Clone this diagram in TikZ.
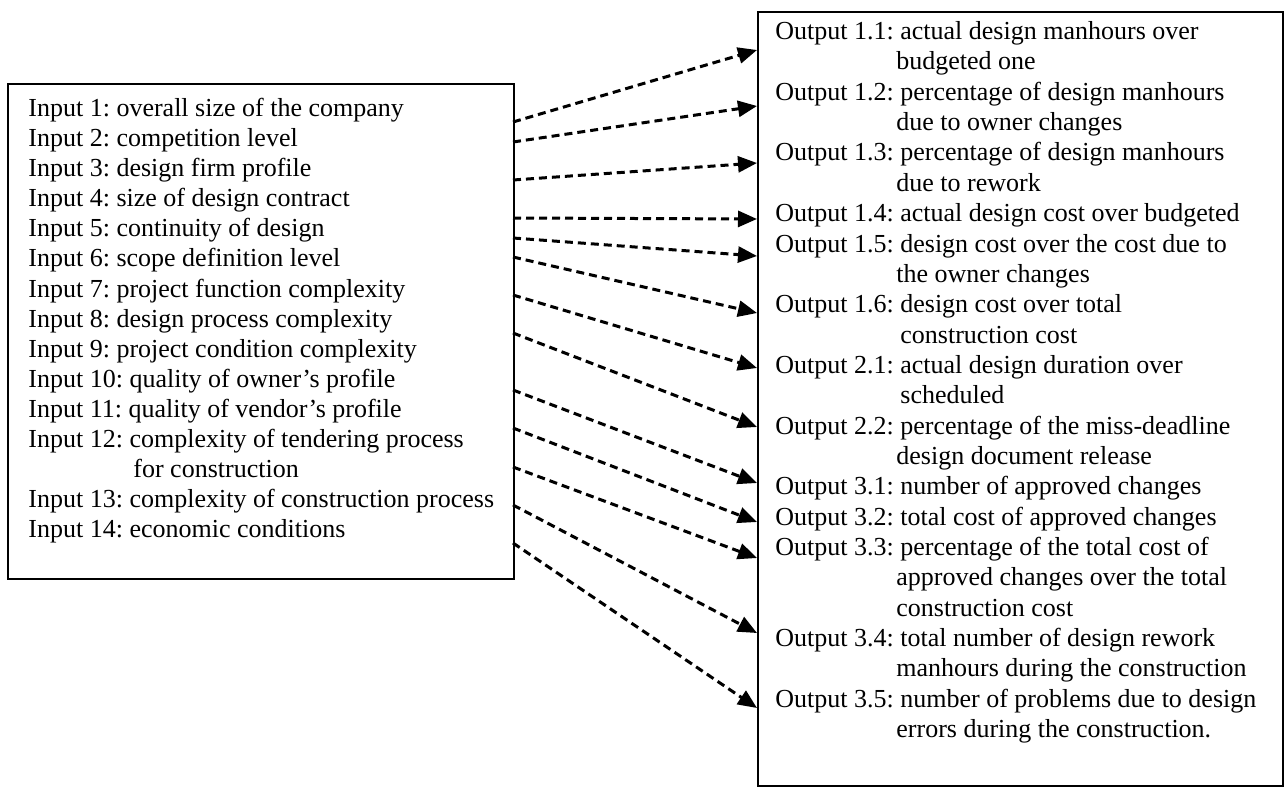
\documentclass[tikz,border=0pt]{standalone}
\usepackage{fontspec}
\setmainfont{Liberation Serif}
\usetikzlibrary{arrows.meta}
\frenchspacing

\begin{document}
\begin{tikzpicture}[x=0.5pt, y=-0.5pt,
	box/.style={draw, line width=1pt, inner sep=0pt, anchor=north west},
	txt/.style={anchor=mid west, inner sep=0pt, font=\fontsize{13}{15}\selectfont},
	flow/.style={line width=1.5pt, dash pattern=on 4pt off 2.5pt, -{Triangle[length=9.5pt, width=8pt]}}]
	\useasboundingbox (0,0) rectangle (1287,787);
	
	\node[box, minimum width=253pt, minimum height=247.5pt] (inbox) at (7,83) {};
	\node[box, minimum width=262.5pt, minimum height=387pt] (outbox) at (757,11) {};
	
	\foreach \r/\x/\t in {0/28/{Input 1: overall size of the company},
		1/28/{Input 2: competition level},
		2/28/{Input 3: design firm profile},
		3/28/{Input 4: size of design contract},
		4/28/{Input 5: continuity of design},
		5/28/{Input 6: scope definition level},
		6/28/{Input 7: project function complexity},
		7/28/{Input 8: design process complexity},
		8/28/{Input 9: project condition complexity},
		9/28/{Input 10: quality of owner’s profile},
		10/28/{Input 11: quality of vendor’s profile},
		11/28/{Input 12: complexity of tendering process},
		12/133/{for construction},
		13/28/{Input 13: complexity of construction process},
		14/28/{Input 14: economic conditions}}
		\node[txt] (in\r) at (\x, {112+30.07*\r}) {\t};
	
	\foreach \r/\x/\t in {0/775/{Output 1.1: actual design manhours over},
		1/896/{budgeted one},
		2/775/{Output 1.2: percentage of design manhours},
		3/896/{due to owner changes},
		4/775/{Output 1.3: percentage of design manhours},
		5/896/{due to rework},
		6/775/{Output 1.4: actual design cost over budgeted},
		7/775/{Output 1.5: design cost over the cost due to},
		8/896/{the owner changes},
		9/775/{Output 1.6: design cost over total},
		10/900/{construction cost},
		11/775/{Output 2.1: actual design duration over},
		12/900/{scheduled},
		13/775/{Output 2.2: percentage of the miss-deadline},
		14/896/{design document release},
		15/775/{Output 3.1: number of approved changes},
		16/775/{Output 3.2: total cost of approved changes},
		17/775/{Output 3.3: percentage of the total cost of},
		18/896/{approved changes over the total},
		19/896/{construction cost},
		20/775/{Output 3.4: total number of design rework},
		21/896/{manhours during the construction},
		22/775/{Output 3.5: number of problems due to design},
		23/896/{errors during the construction.}}
		\node[txt] (out\r) at (\x, {35+30.35*\r}) {\t};
	
	\foreach \a/\b [count=\i] in {122/50, 142/106, 180/163, 218/219, 238/256, 257/313, 295/368,
		333/427, 390/483, 428/522, 467/558, 505/633, 543/708} {
		\coordinate (s\i) at (513,\a);
		\coordinate (t\i) at (757,\b);
		\draw[flow] (s\i) -- (t\i);
	}
\end{tikzpicture}
\end{document}
